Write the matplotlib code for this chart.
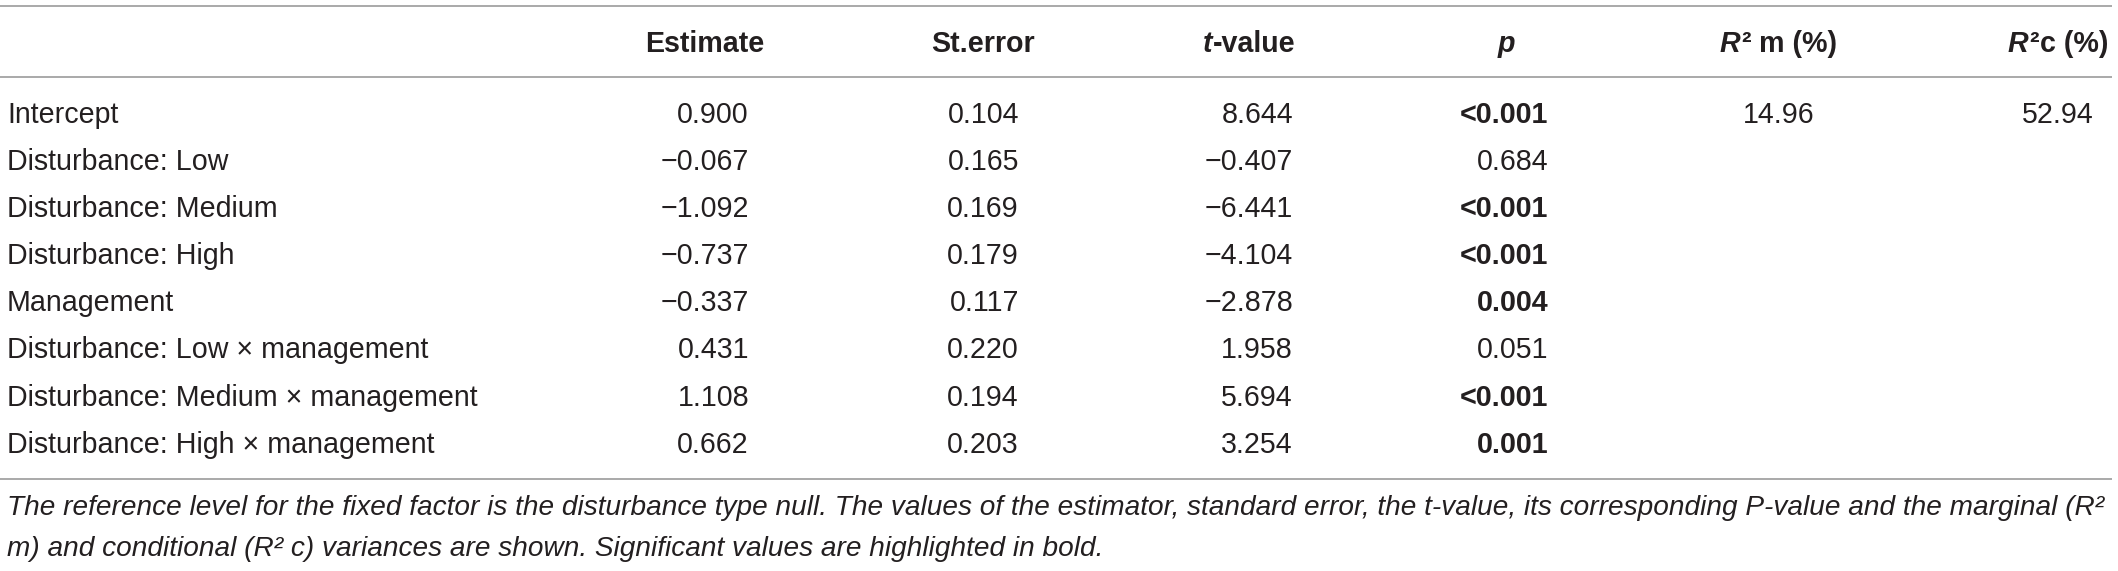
import matplotlib
matplotlib.use("Agg")
import matplotlib.pyplot as plt

# ---------------- data ----------------
terms = [
    "Intercept",
    "Disturbance: Low",
    "Disturbance: Medium",
    "Disturbance: High",
    "Management",
    "Disturbance: Low \u00d7 management",
    "Disturbance: Medium \u00d7 management",
    "Disturbance: High \u00d7 management",
]
estimate = [0.900, -0.067, -1.092, -0.737, -0.337, 0.431, 1.108, 0.662]
st_error = [0.104, 0.165, 0.169, 0.179, 0.117, 0.220, 0.194, 0.203]
t_value = [8.644, -0.407, -6.441, -4.104, -2.878, 1.958, 5.694, 3.254]
p_value = ["<0.001", "0.684", "<0.001", "<0.001", "0.004", "0.051", "<0.001", "0.001"]
p_significant = [True, False, True, True, True, False, True, True]
r2_marginal = ["14.96"]
r2_conditional = ["52.94"]
caption_lines = [
    "The reference level for the fixed factor is the disturbance type null. The values of the estimator, "
    "standard error, the t-value, its corresponding P-value and the marginal (R\u00b2",
    "m) and conditional (R\u00b2 c) variances are shown. Significant values are highlighted in bold.",
]

# ---------------- layout ----------------
W, H, DPI = 2118, 571, 100
FONT = "Liberation Sans"
FS = 20.6
HFS = 20.6
TXT = "#231f20"
RULE = "#a3a3a3"

fig = plt.figure(figsize=(W / DPI, H / DPI), dpi=DPI)
ax = fig.add_axes([0, 0, 1, 1])
ax.set_xlim(0, W)
ax.set_ylim(H, 0)
ax.axis("off")
renderer = fig.canvas.get_renderer()

base = dict(family=FONT, color=TXT)
reg = dict(base, fontsize=FS)
bold = dict(base, fontsize=HFS, fontweight="bold")
boldbody = dict(base, fontsize=FS, fontweight="bold")
bolditalic = dict(base, fontsize=HFS, fontweight="bold", fontstyle="italic")


def text_width(s, kw):
    t = ax.text(0, 0, s, **kw)
    w = t.get_window_extent(renderer).width
    t.remove()
    return w


def runs(x, y, parts, ha="left"):
    widths = [text_width(s, kw) for s, kw, g in parts]
    total = sum(widths) + sum(g for _, _, g in parts)
    if ha == "center":
        x0 = x - total / 2
    elif ha == "right":
        x0 = x - total
    else:
        x0 = x
    for (s, kw, g), w in zip(parts, widths):
        x0 += g
        ax.text(x0, y, s, ha="left", va="baseline", **kw)
        x0 += w


def fmt(v):
    return f"{v:.3f}".replace("-", "\u2212")


# rules
for yr in (6, 77, 479):
    ax.plot([0, 2112], [yr, yr], color=RULE, lw=1.3, solid_capstyle="butt")

# header
HB = 52
ax.text(705, HB, "Estimate", ha="center", va="baseline", **bold)
ax.text(983, HB, "St.error", ha="center", va="baseline", **bold)
runs(1249, HB, [("t", bolditalic, 0), ("-value", bold, 1)], ha="center")
ax.text(1506, HB, "p", ha="center", va="baseline", **bolditalic)
runs(1778, HB, [("R", bolditalic, 0), ("\u00b2", bold, 1), ("m (%)", bold, 8)], ha="center")
runs(2058, HB, [("R", bolditalic, 0), ("\u00b2", bold, 1), ("c (%)", bold, 1)], ha="center")

# body
ROW0, DY = 123, 47.1
for i, term in enumerate(terms):
    y = ROW0 + DY * i
    ax.text(7, y, term, ha="left", va="baseline", **reg)
    ax.text(749, y, fmt(estimate[i]), ha="right", va="baseline", **reg)
    ax.text(1019, y, fmt(st_error[i]), ha="right", va="baseline", **reg)
    ax.text(1293, y, fmt(t_value[i]), ha="right", va="baseline", **reg)
    ax.text(1548, y, p_value[i], ha="right", va="baseline",
            **(boldbody if p_significant[i] else reg))
ax.text(1779, ROW0, r2_marginal[0], ha="center", va="baseline", **reg)
ax.text(2058, ROW0, r2_conditional[0], ha="center", va="baseline", **reg)

# caption: font size fitted so the first line ends where it does in the reference
cap = dict(base, fontsize=17.5, fontstyle="italic")
w1 = text_width(caption_lines[0], cap)
cap["fontsize"] = 17.5 * (2095 - 7) / w1
for yc, line in zip((515, 556), caption_lines):
    ax.text(7, yc, line, ha="left", va="baseline", **cap)

fig.savefig("out.png", dpi=DPI)
